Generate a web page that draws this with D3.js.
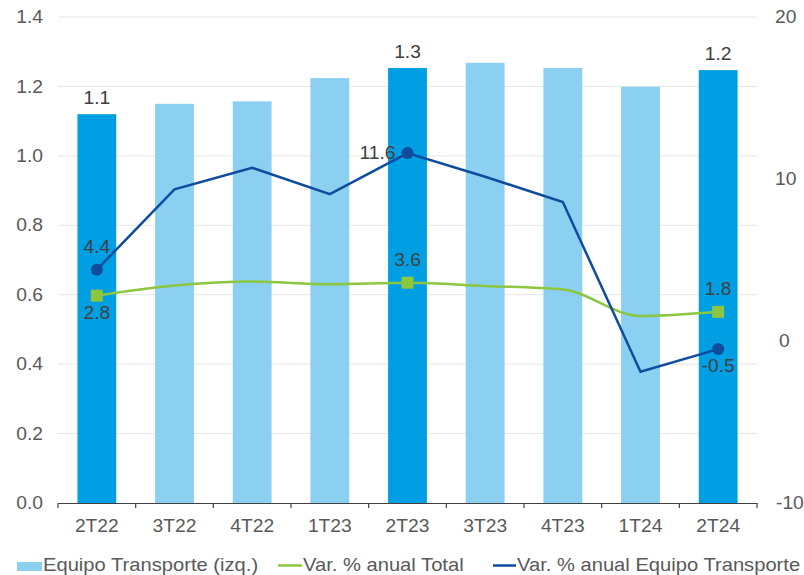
<!DOCTYPE html>
<html><head><meta charset="utf-8">
<script src="https://cdn.jsdelivr.net/npm/d3@7"></script>
<style>body{margin:0;background:#fff}svg{display:block;font-family:"Liberation Sans",Arial,sans-serif}</style>
</head><body>
<svg id="c" width="804" height="575"></svg>
<script>
const categories = ["2T22","3T22","4T22","1T23","2T23","3T23","4T23","1T24","2T24"];
const barValues = [1.12,1.15,1.157,1.224,1.253,1.268,1.253,1.199,1.247];
const highlighted = ["2T22","2T23","2T24"];
const totalVar = [2.8,3.42,3.67,3.5,3.6,3.4,3.18,1.54,1.8];
const equipoVar = [4.4,9.36,10.69,9.06,11.6,10.14,8.58,-1.9,-0.5];
const leftTicks = [0,0.2,0.4,0.6,0.8,1.0,1.2,1.4];
const rightTicks = [-10,0,10,20];
const barLabels = [{cat:"2T22",text:"1.1"},{cat:"2T23",text:"1.3"},{cat:"2T24",text:"1.2"}];
const pointLabels = [
  {series:"equipo",cat:"2T22",text:"4.4",pos:"above"},
  {series:"total",cat:"2T22",text:"2.8",pos:"below"},
  {series:"equipo",cat:"2T23",text:"11.6",pos:"left"},
  {series:"total",cat:"2T23",text:"3.6",pos:"above"},
  {series:"total",cat:"2T24",text:"1.8",pos:"above"},
  {series:"equipo",cat:"2T24",text:"-0.5",pos:"below"}
];

const svg = d3.select("#c");
const L=58, R=757, T=17, B=503;
const K=1.1; // horizontal stretch of the text
const KL=1.12;
const x = d3.scaleBand().domain(categories).range([L,R]).paddingInner(0.5).paddingOuter(0.25);
const xb = d3.scaleBand().domain(categories).range([L,R]);
const y = d3.scaleLinear().domain([0,1.4]).range([B,T]);
const y2 = d3.scaleLinear().domain([-10,20]).range([B,T]);
const txt = "#595959";

function stretch(sel,k){
  k=k||K;
  sel.each(function(){
    const t=d3.select(this); const xv=+t.attr("x")||0;
    t.attr("x",0).attr("transform",`translate(${xv},0) scale(${k},1)`);
  });
}

// gridlines
svg.append("g").selectAll("line").data(leftTicks.filter(d=>d>0)).join("line")
  .attr("x1",L).attr("x2",R).attr("y1",d=>y(d)).attr("y2",d=>y(d))
  .attr("stroke","#e6e6e6").attr("stroke-width",1);

// bars
svg.append("g").selectAll("rect").data(categories).join("rect")
  .attr("x",d=>x(d)).attr("width",x.bandwidth())
  .attr("y",(d,i)=>y(barValues[i])).attr("height",(d,i)=>B-y(barValues[i]))
  .attr("fill",d=>highlighted.includes(d)?"#009fe3":"#8bd0f1");

// x axis
const xa = svg.append("g").attr("transform",`translate(0,${B})`)
  .call(d3.axisBottom(xb).tickSize(0).tickPadding(17));
xa.select(".domain").attr("stroke","#404040").attr("stroke-width",1.2);
xa.selectAll("text").attr("font-size",17.5).attr("fill",txt).attr("font-family","Liberation Sans, Arial")
  .attr("transform",`scale(${K},1)`);
svg.append("g").selectAll("line").data(d3.range(categories.length+1)).join("line")
  .attr("x1",i=>L+i*xb.step()).attr("x2",i=>L+i*xb.step()).attr("y1",B).attr("y2",B+5)
  .attr("stroke","#404040").attr("stroke-width",1.2);

// left axis labels
svg.append("g").selectAll("text").data(leftTicks).join("text")
  .attr("x",43).attr("y",d=>y(d)).attr("dy","0.35em").attr("text-anchor","end")
  .attr("font-size",17.5).attr("fill",txt).text(d=>d3.format(".1f")(d)).call(stretch);
// right axis labels
svg.append("g").selectAll("text").data(rightTicks).join("text")
  .attr("x",d=>d<0?776:(d===0?779:775)).attr("y",d=>y2(d)).attr("dy","0.35em").attr("text-anchor","start")
  .attr("font-size",17.5).attr("fill",txt).text(d=>d).call(stretch);

const cx = d=>x(d)+x.bandwidth()/2;
// lines
const lineTotal = d3.line().x((d,i)=>cx(categories[i])).y(d=>y2(d)).curve(d3.curveMonotoneX);
const lineEq = d3.line().x((d,i)=>cx(categories[i])).y(d=>y2(d));
svg.append("path").datum(totalVar).attr("d",lineTotal).attr("fill","none").attr("stroke","#8dc63f").attr("stroke-width",2.5);
svg.append("path").datum(equipoVar).attr("d",lineEq).attr("fill","none").attr("stroke","#0f4c9e").attr("stroke-width",2.5);

// markers
const getVal=(s,c)=>(s==="total"?totalVar:equipoVar)[categories.indexOf(c)];
svg.append("g").selectAll("rect").data(pointLabels.filter(p=>p.series==="total")).join("rect")
  .attr("x",p=>cx(p.cat)-6).attr("y",p=>y2(getVal("total",p.cat))-6).attr("width",12).attr("height",12)
  .attr("fill","#8dc63f");
svg.append("g").selectAll("circle").data(pointLabels.filter(p=>p.series==="equipo")).join("circle")
  .attr("cx",p=>cx(p.cat)).attr("cy",p=>y2(getVal("equipo",p.cat))).attr("r",6)
  .attr("fill","#0f4c9e");

// bar labels
svg.append("g").selectAll("text").data(barLabels).join("text")
  .attr("x",d=>cx(d.cat)).attr("y",d=>y(barValues[categories.indexOf(d.cat)])-10)
  .attr("text-anchor","middle").attr("font-size",17.5).attr("fill","#404040").text(d=>d.text).call(stretch);

// point labels
svg.append("g").selectAll("text").data(pointLabels).join("text")
  .attr("x",p=>p.pos==="left"?cx(p.cat)-12:cx(p.cat))
  .attr("y",p=>{const v=y2(getVal(p.series,p.cat)); return p.pos==="above"?v-17:(p.pos==="below"?v+23:v);})
  .attr("dy",p=>p.pos==="left"?"0.35em":"0")
  .attr("text-anchor",p=>p.pos==="left"?"end":"middle")
  .attr("font-size",17.5).attr("fill","#404040").text(p=>p.text).call(stretch);

// legend
const lg = svg.append("g");
lg.append("rect").attr("x",17).attr("y",562).attr("width",25).attr("height",9).attr("fill","#8bd0f1");
lg.append("text").attr("x",43).attr("y",571).attr("font-size",18).attr("fill",txt).text("Equipo Transporte (izq.)").call(stretch,KL);
lg.append("line").attr("x1",278).attr("x2",302).attr("y1",565.5).attr("y2",565.5).attr("stroke","#8dc63f").attr("stroke-width",2.5);
lg.append("text").attr("x",303).attr("y",571).attr("font-size",18).attr("fill",txt).text("Var. % anual Total").call(stretch,KL);
lg.append("line").attr("x1",493).attr("x2",516).attr("y1",565.5).attr("y2",565.5).attr("stroke","#0f4c9e").attr("stroke-width",2.5);
lg.append("text").attr("x",517).attr("y",571).attr("font-size",18).attr("fill",txt).text("Var. % anual Equipo Transporte").call(stretch,KL);
</script>
</body></html>
